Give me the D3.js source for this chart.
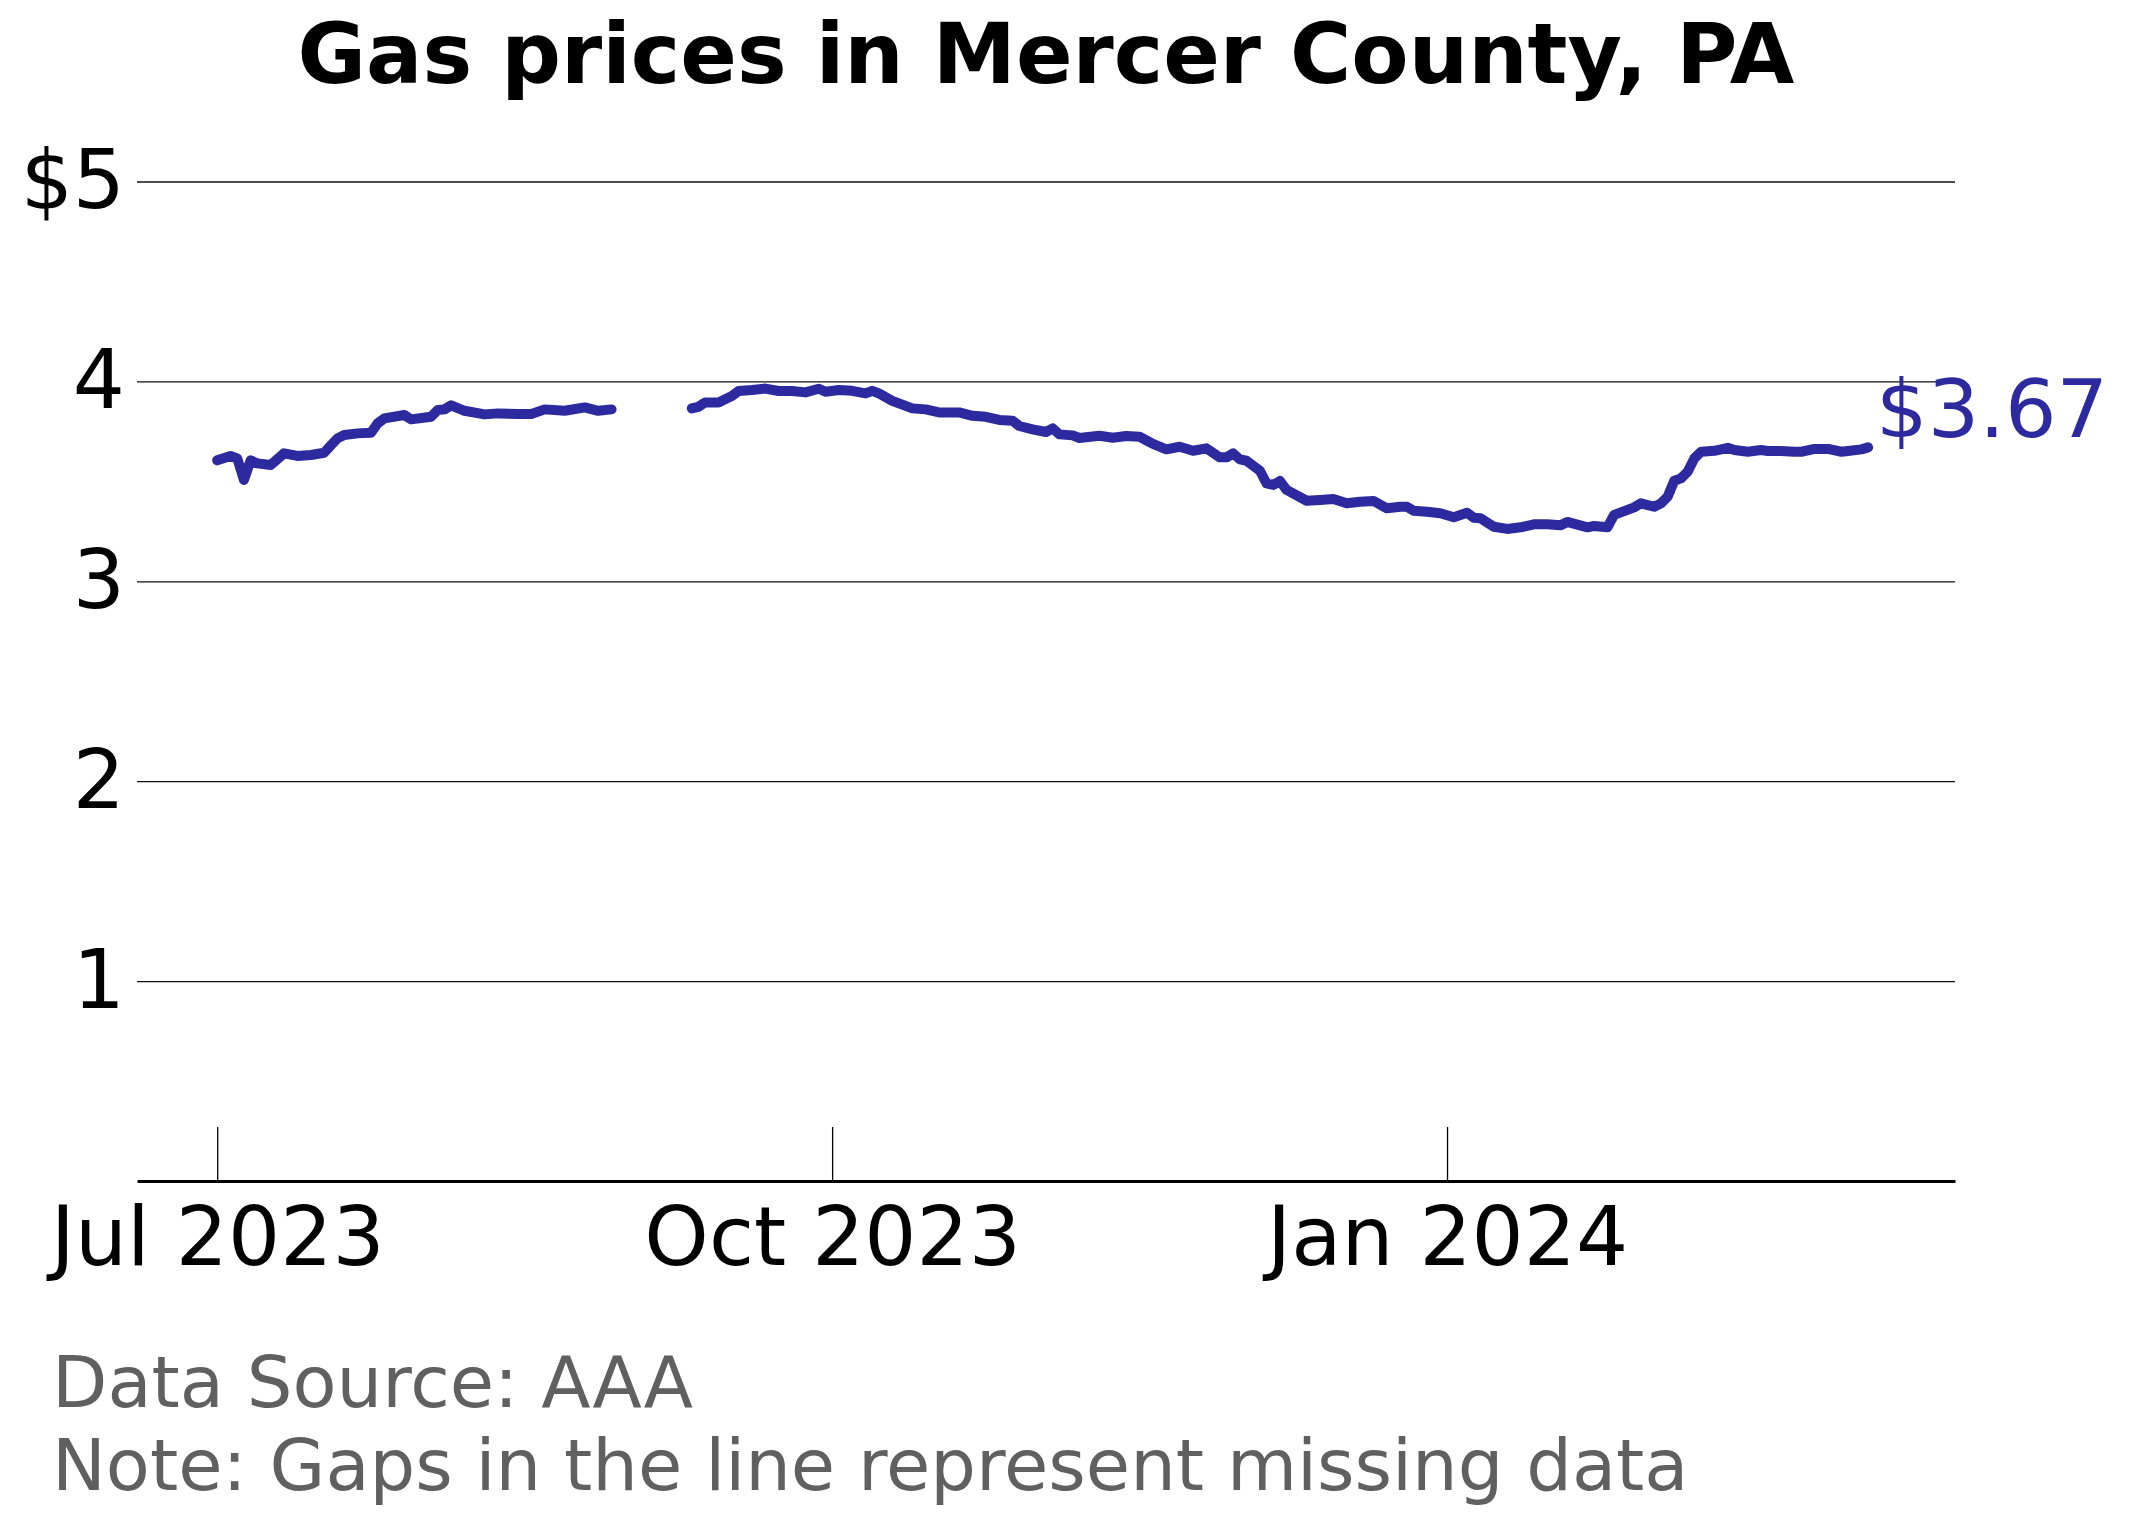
<!DOCTYPE html>
<html lang="en">
<head>
<meta charset="UTF-8">
<title>Gas prices in Mercer County, PA</title>
<script src="https://cdn.jsdelivr.net/npm/d3@7"></script>
<style>
    body { margin: 0; background: #fff; }
    svg { display: block; font-family: "DejaVu Sans", sans-serif; }
</style>
</head>
<body>
<svg width="2132" height="1524"></svg>

<script>

    // Daily prices (null = missing data -> gap in the line)
    const dates = [
        "2023-07-01", "2023-07-03", "2023-07-04", "2023-07-05", "2023-07-06", "2023-07-07",
        "2023-07-09", "2023-07-11", "2023-07-13", "2023-07-15", "2023-07-17", "2023-07-18",
        "2023-07-19", "2023-07-20", "2023-07-22", "2023-07-24", "2023-07-25", "2023-07-26",
        "2023-07-29", "2023-07-30", "2023-08-02", "2023-08-03", "2023-08-04", "2023-08-05",
        "2023-08-07", "2023-08-10", "2023-08-12", "2023-08-15", "2023-08-17", "2023-08-19",
        "2023-08-22", "2023-08-25", "2023-08-27", "2023-08-29",
        "2023-09-01",
        "2023-09-10", "2023-09-11", "2023-09-12", "2023-09-14", "2023-09-16", "2023-09-17",
        "2023-09-19", "2023-09-21", "2023-09-23", "2023-09-25", "2023-09-27", "2023-09-29",
        "2023-09-30", "2023-10-02", "2023-10-04", "2023-10-06", "2023-10-07", "2023-10-08",
        "2023-10-10", "2023-10-11", "2023-10-13", "2023-10-15", "2023-10-17", "2023-10-20",
        "2023-10-22", "2023-10-24", "2023-10-26", "2023-10-28", "2023-10-29", "2023-10-31",
        "2023-11-02", "2023-11-03", "2023-11-04", "2023-11-06", "2023-11-07", "2023-11-10",
        "2023-11-12", "2023-11-14", "2023-11-16", "2023-11-18", "2023-11-20", "2023-11-22",
        "2023-11-24", "2023-11-26", "2023-11-28", "2023-11-29", "2023-11-30", "2023-12-01",
        "2023-12-02", "2023-12-04", "2023-12-05", "2023-12-06", "2023-12-07", "2023-12-08",
        "2023-12-11", "2023-12-13", "2023-12-15", "2023-12-17", "2023-12-19", "2023-12-21",
        "2023-12-23", "2023-12-25", "2023-12-26", "2023-12-27", "2023-12-29", "2023-12-31",
        "2024-01-02", "2024-01-04", "2024-01-05", "2024-01-06", "2024-01-08", "2024-01-10",
        "2024-01-12", "2024-01-14", "2024-01-16", "2024-01-18", "2024-01-19", "2024-01-22",
        "2024-01-23", "2024-01-25", "2024-01-26", "2024-01-28", "2024-01-29", "2024-01-30",
        "2024-02-01", "2024-02-02", "2024-02-03", "2024-02-04", "2024-02-05", "2024-02-06",
        "2024-02-07", "2024-02-08", "2024-02-10", "2024-02-12", "2024-02-13", "2024-02-15",
        "2024-02-17", "2024-02-18", "2024-02-20", "2024-02-22", "2024-02-23", "2024-02-25",
        "2024-02-27", "2024-02-29", "2024-03-01", "2024-03-03", "2024-03-04"
    ];

    const prices = [
        3.605, 3.627, 3.615, 3.507, 3.605, 3.590,
        3.582, 3.640, 3.627, 3.632, 3.643, 3.680,
        3.715, 3.732, 3.740, 3.743, 3.790, 3.815,
        3.832, 3.810, 3.823, 3.857, 3.860, 3.880,
        3.853, 3.835, 3.840, 3.837, 3.837, 3.860,
        3.853, 3.870, 3.853, 3.860,
        null,
        3.865, 3.873, 3.895, 3.895, 3.927, 3.952,
        3.957, 3.964, 3.952, 3.952, 3.945, 3.963,
        3.948, 3.957, 3.953, 3.940, 3.953, 3.940,
        3.903, 3.890, 3.865, 3.860, 3.845, 3.845,
        3.828, 3.823, 3.807, 3.803, 3.777, 3.760,
        3.747, 3.765, 3.735, 3.730, 3.717, 3.728,
        3.718, 3.727, 3.723, 3.687, 3.660, 3.673,
        3.653, 3.665, 3.620, 3.620, 3.640, 3.610,
        3.603, 3.553, 3.490, 3.482, 3.502, 3.457,
        3.403, 3.407, 3.412, 3.390, 3.398, 3.402,
        3.365, 3.373, 3.373, 3.353, 3.348, 3.340,
        3.320, 3.343, 3.318, 3.315, 3.273, 3.262,
        3.270, 3.285, 3.285, 3.280, 3.297, 3.270,
        3.277, 3.270, 3.332, 3.357, 3.370, 3.390,
        3.373, 3.390, 3.423, 3.503, 3.515, 3.548,
        3.615, 3.648, 3.653, 3.668, 3.657, 3.648,
        3.657, 3.652, 3.652, 3.648, 3.648, 3.662,
        3.662, 3.648, 3.652, 3.660, 3.670
    ];

    const yTicks = [1, 2, 3, 4, 5];
    const xTicks = ["2023-07-01", "2023-10-01", "2024-01-01"];
    const xDomain = ["2023-06-19", "2024-03-17"];

    const title = "Gas prices in Mercer County, PA";
    const notes = ["Data Source: AAA", "Note: Gaps in the line represent missing data"];

    const lineColor = "#2d2a9f";

    const svg = d3.select("svg");
    const parse = d3.utcParse("%Y-%m-%d");

    const data = dates.map((d, i) => ({date: parse(d), price: prices[i]}));

    // plot area
    const plotLeft = 137, plotRight = 1955, plotTop = 181.5, plotBottom = 1181;

    const x = d3.scaleUtc()
        .domain(xDomain.map(parse))
        .range([plotLeft, plotRight]);

    const y = d3.scaleLinear()
        .domain([0, 5])
        .range([plotBottom, plotTop]);

    // gridlines + y labels
    const yAxis = svg.append("g")
        .attr("transform", `translate(${plotLeft},0)`)
        .call(d3.axisLeft(y)
            .tickValues(yTicks)
            .tickSize(-(plotRight - plotLeft))
            .tickPadding(12)
            .tickFormat(d => d === 5 ? "$5" : d));
    yAxis.select(".domain").remove();
    yAxis.selectAll(".tick line").attr("stroke", "#111").attr("stroke-width", 1.3);
    yAxis.selectAll(".tick text")
        .attr("font-size", 82)
        .attr("font-family", "DejaVu Sans")
        .attr("fill", "#000");

    // x axis, ticks pointing up into the plot
    const xAxis = svg.append("g")
        .attr("transform", `translate(0,${plotBottom})`)
        .call(d3.axisBottom(x)
            .tickValues(xTicks.map(parse))
            .tickSizeInner(-54)
            .tickSizeOuter(0)
            .tickPadding(26)
            .tickFormat(d3.utcFormat("%b %Y")));
    xAxis.select(".domain").attr("stroke", "#000").attr("stroke-width", 3);
    xAxis.selectAll(".tick line").attr("stroke", "#000").attr("stroke-width", 1.3);
    xAxis.selectAll(".tick text")
        .attr("font-size", 82)
        .attr("font-family", "DejaVu Sans")
        .attr("fill", "#000");

    // price line
    const line = d3.line()
        .defined(d => d.price != null)
        .x(d => x(d.date))
        .y(d => y(d.price));

    svg.append("path")
        .datum(data)
        .attr("d", line)
        .attr("fill", "none")
        .attr("stroke", lineColor)
        .attr("stroke-width", 10)
        .attr("stroke-linejoin", "round")
        .attr("stroke-linecap", "round");

    // last value label
    const last = data[data.length - 1];
    svg.append("text")
        .attr("x", x(last.date) + 8)
        .attr("y", y(last.price) - 10)
        .attr("font-size", 81)
        .attr("fill", lineColor)
        .text("$" + d3.format(".2f")(last.price));

    // title
    svg.append("text")
        .attr("x", (plotLeft + plotRight) / 2)
        .attr("y", 83)
        .attr("text-anchor", "middle")
        .attr("font-size", 83.5)
        .attr("font-weight", "bold")
        .text(title);

    // footnotes
    svg.append("g")
        .selectAll("text")
        .data(notes)
        .enter()
        .append("text")
        .attr("x", 52)
        .attr("y", (d, i) => 1407 + i * 83)
        .attr("font-size", 72)
        .attr("fill", "#606060")
        .text(d => d);

</script>
</body>
</html>
